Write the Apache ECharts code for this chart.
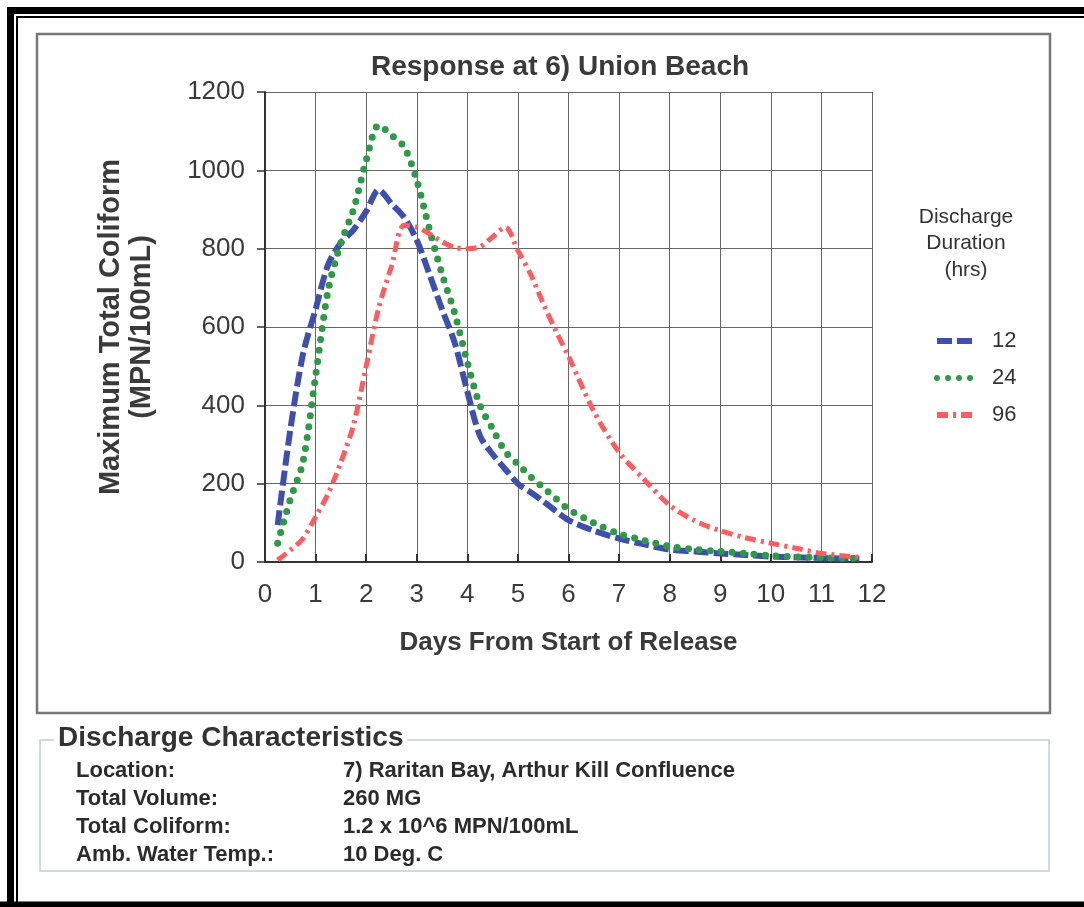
<!DOCTYPE html>
<html>
<head>
<meta charset="utf-8">
<script src="https://cdn.jsdelivr.net/npm/echarts@6/dist/echarts.min.js"></script>
<style>
  html, body { margin: 0; padding: 0; background: #fff; overflow: hidden; }
  #main { width: 1084px; height: 907px; }
</style>
</head>
<body>
<div id="main"></div>
<script>
// values
const days = [0.25, 0.5, 0.75, 1, 1.25, 1.5, 1.75, 2, 2.25, 2.5, 2.75, 3, 3.25, 3.5, 3.75, 4,
  4.25, 4.5, 4.75, 5, 5.25, 5.5, 5.75, 6, 6.5, 7, 7.5, 8, 8.5, 9, 9.5, 10, 10.5, 11, 11.75];
const hrs12 = [94, 337, 530, 645, 760, 815, 848, 895, 950, 915, 880, 822, 735, 645, 560, 435,
  322, 275, 237, 200, 178, 155, 130, 107, 80, 60, 45, 32, 27, 22, 18, 14, 12, 10, 8];
const hrs24 = [48, 160, 255, 475, 695, 815, 900, 1025, 1115, 1090, 1060, 975, 850, 735, 635, 510,
  400, 340, 282, 250, 218, 190, 162, 135, 100, 72, 55, 40, 32, 27, 22, 16, 13, 11, 9];
const hrs96 = [5, 30, 60, 115, 175, 255, 350, 500, 650, 755, 860, 855, 838, 818, 803, 800,
  805, 830, 855, 795, 735, 660, 590, 525, 385, 280, 210, 145, 105, 80, 62, 48, 35, 22, 12];
const xTicks = [0, 12, 1];
const yTicks = [0, 1200, 200];
const seriesNames = ['12', '24', '96'];
const legendHeading = ['Discharge', 'Duration', '(hrs)'];
const infoLabels = ['Location:', 'Total Volume:', 'Total Coliform:', 'Amb. Water Temp.:'];
const infoValues = ['7) Raritan Bay, Arthur Kill Confluence', '260 MG', '1.2 x 10^6 MPN/100mL', '10 Deg. C'];

const pairs = (vals) => days.map((d, i) => [d, vals[i]]);
const sans = '"Liberation Sans", Arial, sans-serif';

var myChart = echarts.init(document.getElementById('main'));

const infoText = [];
infoLabels.forEach((t, i) => {
  infoText.push({ type: 'text', left: 76, top: 760 + i * 28,
    style: { text: t, font: 'bold 22px ' + sans, fill: '#2b2b2b' } });
  infoText.push({ type: 'text', left: 343, top: 760 + i * 28,
    style: { text: infoValues[i], font: 'bold 22px ' + sans, fill: '#2b2b2b' } });
});
const headingText = legendHeading.map((t, i) => ({
  type: 'text', x: 966, y: 217 + i * 26.5,
  style: { text: t, font: '21px ' + sans, fill: '#333', align: 'center', verticalAlign: 'middle' }
}));

let options = {
  animation: false,
  backgroundColor: '#fff',
  title: {
    text: 'Response at 6) Union Beach',
    left: 366, top: 48,
    textStyle: { fontFamily: sans, fontSize: 28, fontWeight: 'bold', color: '#3a3a3a' }
  },
  grid: { left: 265, right: 212, top: 92, bottom: 345 },
  legend: {
    orient: 'vertical', left: 929, top: 325,
    itemWidth: 40, itemHeight: 14, itemGap: 15,
    itemStyle: { opacity: 0 },
    lineStyle: { width: 6 },
    textStyle: { fontFamily: sans, fontSize: 22, color: '#333', padding: [0, 0, 0, 10] },
    data: seriesNames
  },
  xAxis: {
    type: 'value', min: xTicks[0], max: xTicks[1], interval: xTicks[2],
    name: 'Days From Start of Release', nameLocation: 'middle', nameGap: 68,
    nameTextStyle: { fontFamily: sans, fontSize: 26, fontWeight: 'bold', color: '#3a3a3a' },
    axisLine: { lineStyle: { color: '#333', width: 2 } },
    axisTick: { inside: true, length: 8, lineStyle: { color: '#333', width: 2 } },
    axisLabel: { margin: 20, fontFamily: sans, fontSize: 26, color: '#3a3a3a' },
    splitLine: { lineStyle: { color: '#666', width: 1 } }
  },
  yAxis: {
    type: 'value', min: yTicks[0], max: yTicks[1], interval: yTicks[2],
    name: 'Maximum Total Coliform\n(MPN/100mL)', nameLocation: 'middle', nameGap: 108,
    nameTextStyle: { fontFamily: sans, fontSize: 29, fontWeight: 'bold', color: '#3a3a3a', lineHeight: 31 },
    axisLine: { show: true, lineStyle: { color: '#333', width: 2 } },
    axisTick: { show: true, length: 8, lineStyle: { color: '#333', width: 1.5 } },
    axisLabel: { margin: 20, fontFamily: sans, fontSize: 26, color: '#3a3a3a', formatter: (v) => String(v) },
    splitLine: { lineStyle: { color: '#666', width: 1 } }
  },
  series: [{
    name: seriesNames[0], type: 'line', data: pairs(hrs12), symbol: 'none', smooth: 0.3,
    lineStyle: { color: '#3f4fb0', width: 6, type: [15, 5] }, itemStyle: { color: '#3f4fb0' }
  }, {
    name: seriesNames[1], type: 'line', data: pairs(hrs24), symbol: 'none', smooth: 0.3,
    lineStyle: { color: '#2f9a45', width: 7, type: [0, 11], cap: 'round' }, itemStyle: { color: '#2f9a45' }
  }, {
    name: seriesNames[2], type: 'line', data: pairs(hrs96), symbol: 'none', smooth: 0.3,
    lineStyle: { color: '#ff5c60', width: 5, type: [11, 5, 3, 5] }, itemStyle: { color: '#ff5c60' }
  }],
  graphic: [
    // outer black frame (open on the right, as in the scan)
    { type: 'polyline', shape: { points: [[10.5, 907], [10.5, 10.5], [1084, 10.5]] },
      style: { fill: null, stroke: '#000', lineWidth: 7 }, silent: true },
    { type: 'polyline', shape: { points: [[0, 904.5], [1084, 904.5]] },
      style: { fill: null, stroke: '#000', lineWidth: 6 }, silent: true },
    { type: 'polyline', shape: { points: [[17, 907], [17, 17], [1084, 17]] },
      style: { fill: null, stroke: '#000', lineWidth: 2 }, silent: true },
    // chart box
    { type: 'rect', shape: { x: 37, y: 34, width: 1013, height: 679 },
      style: { fill: null, stroke: '#777', lineWidth: 2.5 }, silent: true },
    // discharge characteristics box
    { type: 'rect', shape: { x: 40, y: 740, width: 1009, height: 131 },
      style: { fill: null, stroke: '#c5ccd8', lineWidth: 1.5 }, silent: true },
    { type: 'text', left: 54, top: 724,
      style: { text: 'Discharge Characteristics', font: 'bold 28px ' + sans, fill: '#333',
        backgroundColor: '#fff', padding: [0, 4] } }
  ].concat(headingText, infoText)
};
myChart.setOption(options);
</script>
</body>
</html>
